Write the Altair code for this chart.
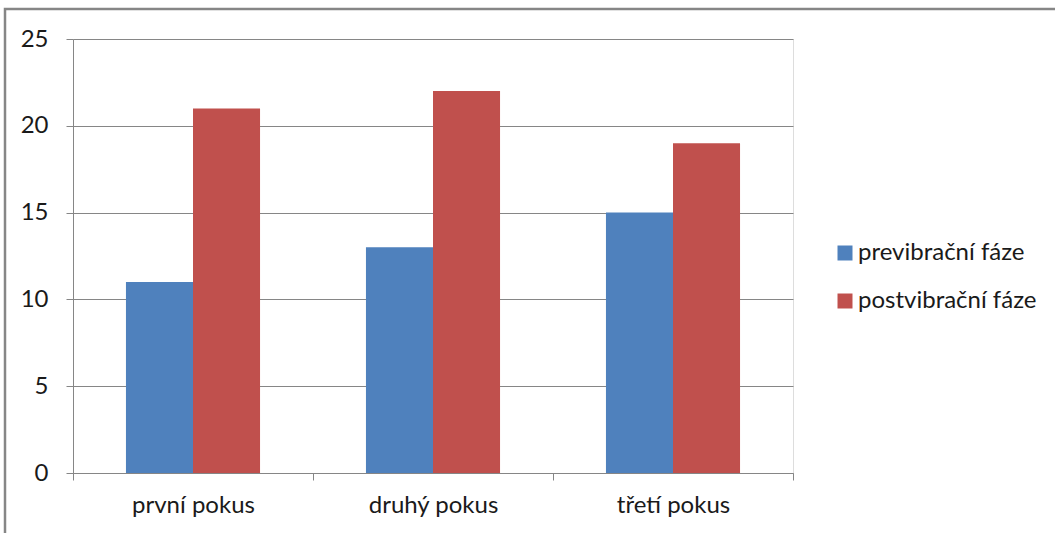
import altair as alt
import pandas as pd

# Attempts and the two measurement phases
pokusy = ["první pokus", "druhý pokus", "třetí pokus"]
faze = ["previbrační fáze", "postvibrační fáze"]
previbracni = [11, 13, 15]
postvibracni = [21, 22, 19]
barvy = ["#4F81BD", "#C0504D"]
y_ticks = [0, 5, 10, 15, 20, 25]

rows = []
for i, p in enumerate(pokusy):
    rows.append({"pokus": p, "faze": faze[0], "hodnota": previbracni[i]})
    rows.append({"pokus": p, "faze": faze[1], "hodnota": postvibracni[i]})
df = pd.DataFrame(rows)

FONT = "Lato"
FS = 24
GRAY = "#868686"

bars = alt.Chart(df).mark_bar().encode(
    x=alt.X(
        "pokus:N",
        sort=pokusy,
        title=None,
        scale=alt.Scale(paddingInner=0, paddingOuter=0),
        axis=alt.Axis(
            labelAngle=0,
            tickBand="extent",
            tickSize=7,
            tickColor=GRAY,
            domainColor=GRAY,
            labelFontSize=FS,
            labelFont=FONT,
            labelColor="#1a1a1a",
            labelPadding=13,
            grid=False,
        ),
    ),
    xOffset=alt.XOffset(
        "faze:N", sort=faze, scale=alt.Scale(paddingInner=0, paddingOuter=0.79)
    ),
    y=alt.Y(
        "hodnota:Q",
        title=None,
        scale=alt.Scale(domain=[0, 25], nice=False),
        axis=alt.Axis(
            values=y_ticks,
            tickSize=7,
            tickColor=GRAY,
            domainColor=GRAY,
            gridColor=GRAY,
            labelFontSize=FS,
            labelFont=FONT,
            labelColor="#1a1a1a",
            labelPadding=18,
        ),
    ),
    color=alt.Color(
        "faze:N",
        sort=faze,
        scale=alt.Scale(domain=faze, range=barvy),
        legend=alt.Legend(
            title=None,
            orient="none",
            legendX=760,
            legendY=202,
            symbolType="square",
            symbolSize=225,
            symbolStrokeWidth=0,
            labelFontSize=FS,
            labelFont=FONT,
            labelColor="#1a1a1a",
            labelLimit=400,
            rowPadding=24,
            labelOffset=1,
        ),
    ),
)

# Outer chart frame
frame = alt.Chart(pd.DataFrame({"a": [0]})).mark_rect(
    fill=None, stroke=GRAY, strokeWidth=2.5, clip=False
).encode(
    x=alt.value(-68),
    x2=alt.value(1060),
    y=alt.value(-30),
    y2=alt.value(560),
)

chart = (
    alt.layer(frame, bars)
    .properties(
        width=720,
        height=434,
        autosize=alt.AutoSizeParams(type="none"),
        padding={"left": 73, "top": 39, "right": 262, "bottom": 60},
    )
    .configure_view(stroke=None)
    .configure(background="white")
)

chart.save("out.html", embed_options={"renderer": "svg", "actions": False})
